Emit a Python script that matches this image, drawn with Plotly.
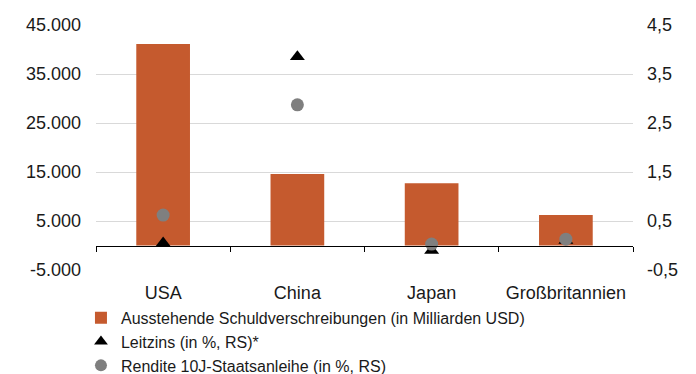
import plotly.graph_objects as go

# Länder und Werte
laender = ["USA", "China", "Japan", "Großbritannien"]
schulden = [41100, 14600, 12700, 6200]          # Mrd. USD, linke Achse
leitzins = [0.05, 3.85, -0.1, 0.1]              # %, rechte Achse
rendite_10j = [0.62, 2.87, 0.03, 0.13]          # %, rechte Achse

left_ticks = [-5000, 5000, 15000, 25000, 35000, 45000]
right_ticks = [-0.5, 0.5, 1.5, 2.5, 3.5, 4.5]

# Deutsche Zahlenformate mit einfachem Bindestrich als Minus
left_text = [f"{v:,.0f}".replace(",", ".") for v in left_ticks]
right_text = [f"{v:.1f}".replace(".", ",") for v in right_ticks]

font_family = "Liberation Sans, Arial, sans-serif"
text_color = "#1a1a1a"
fs = 18

fig = go.Figure()

fig.add_trace(go.Bar(
    x=laender, y=schulden,
    name="Ausstehende Schuldverschreibungen (in Milliarden USD)",
    marker=dict(color="#C55A2E", line=dict(width=0)),
    xaxis="x", yaxis="y",
))

fig.add_trace(go.Scatter(
    x=laender, y=leitzins, mode="markers",
    name="Leitzins (in %, RS)*",
    marker=dict(symbol="triangle-up", size=13, color="#000000"),
    xaxis="x2", yaxis="y2",
))

fig.add_trace(go.Scatter(
    x=laender, y=rendite_10j, mode="markers",
    name="Rendite 10J-Staatsanleihe (in %, RS)",
    marker=dict(symbol="circle", size=13, color="#7F7F7F"),
    xaxis="x2", yaxis="y2",
))

fig.update_layout(
    width=696, height=374,
    margin=dict(l=96, r=63, t=25, b=104, autoexpand=False),
    paper_bgcolor="white", plot_bgcolor="white",
    font=dict(family=font_family, size=fs, color=text_color),
    bargap=0.6,
    showlegend=True,
    legend=dict(
        orientation="v", x=-0.028, xanchor="left", y=-0.126, yanchor="top",
        font=dict(size=16, color=text_color),
        itemwidth=30, itemsizing="constant", tracegroupgap=0,
        bgcolor="rgba(0,0,0,0)",
    ),
    xaxis=dict(
        type="category", categoryorder="array", categoryarray=laender,
        showline=False, showgrid=False, ticks="", zeroline=False,
        ticklabelstandoff=10,
        tickfont=dict(size=fs, color=text_color),
    ),
    # Achsenlinie bei Null mit Teilstrichen an den Kategoriegrenzen
    xaxis2=dict(
        type="category", categoryorder="array", categoryarray=laender,
        matches="x", overlaying="x", anchor="free", position=0.1,
        showline=True, linecolor="#000000", linewidth=1,
        ticks="outside", tickson="boundaries", ticklen=5,
        tickcolor="#000000", tickwidth=1,
        showticklabels=False, showgrid=False, zeroline=False,
    ),
    yaxis=dict(
        range=[-5000, 45000], tickvals=left_ticks, ticktext=left_text,
        showgrid=True, gridcolor="#D9D9D9", gridwidth=1,
        zeroline=False, showline=False, ticks="",
        ticklabelstandoff=14,
        tickfont=dict(size=fs, color=text_color),
    ),
    yaxis2=dict(
        range=[-0.5, 4.5], tickvals=right_ticks, ticktext=right_text,
        overlaying="y", side="right", anchor="x",
        showgrid=False, zeroline=False, showline=False, ticks="",
        ticklabelstandoff=13,
        tickfont=dict(size=fs, color=text_color),
    ),
)

fig.write_html("out.html")
